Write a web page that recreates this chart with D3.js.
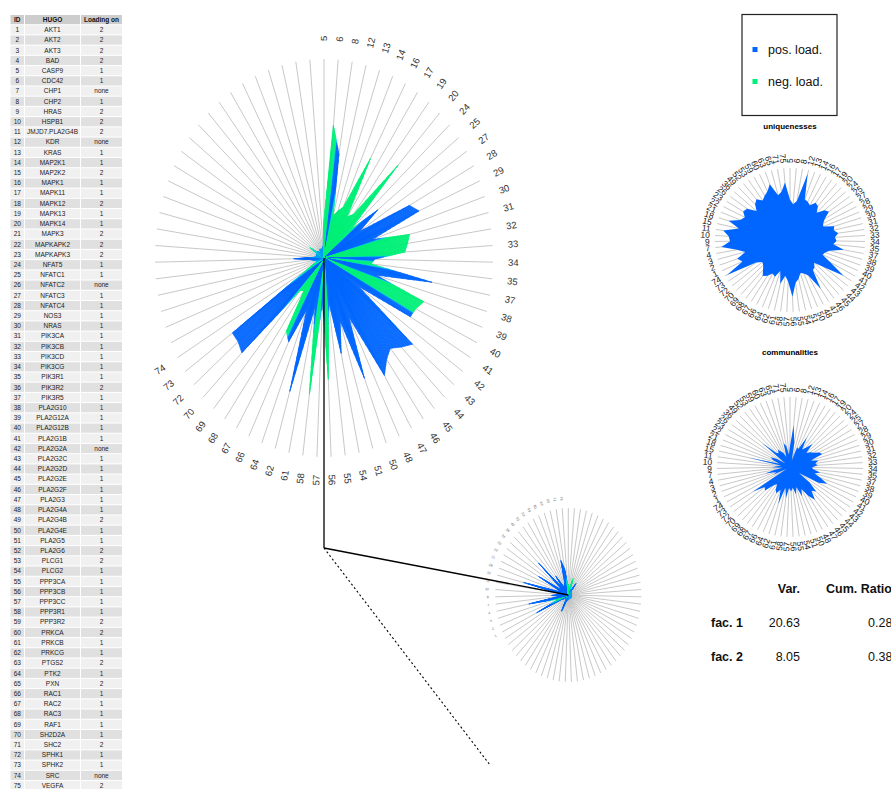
<!DOCTYPE html>
<html>
<head>
<meta charset="utf-8">
<script src="https://cdn.jsdelivr.net/npm/d3@7"></script>
<style>
  html, body { margin: 0; padding: 0; background: #fff; }
  svg { display: block; font-family: "Liberation Sans", Arial, Helvetica, sans-serif; }
</style>
</head>
<body>
<svg id="chart" width="891" height="789"></svg>
<script>
// ---- gene table ----
const hugo = ["AKT1","AKT2","AKT3","BAD","CASP9","CDC42","CHP1","CHP2","HRAS","HSPB1",
  "JMJD7.PLA2G4B","KDR","KRAS","MAP2K1","MAP2K2","MAPK1","MAPK11","MAPK12","MAPK13","MAPK14",
  "MAPK3","MAPKAPK2","MAPKAPK3","NFAT5","NFATC1","NFATC2","NFATC3","NFATC4","NOS3","NRAS",
  "PIK3CA","PIK3CB","PIK3CD","PIK3CG","PIK3R1","PIK3R2","PIK3R5","PLA2G10","PLA2G12A","PLA2G12B",
  "PLA2G1B","PLA2G2A","PLA2G2C","PLA2G2D","PLA2G2E","PLA2G2F","PLA2G3","PLA2G4A","PLA2G4B","PLA2G4E",
  "PLA2G5","PLA2G6","PLCG1","PLCG2","PPP3CA","PPP3CB","PPP3CC","PPP3R1","PPP3R2","PRKCA",
  "PRKCB","PRKCG","PTGS2","PTK2","PXN","RAC1","RAC2","RAC3","RAF1","SH2D2A",
  "SHC2","SPHK1","SPHK2","SRC","VEGFA"];
const loadingOn = ["2","2","2","2","1","1","none","1","2","2",
  "2","none","1","1","2","1","1","2","1","1",
  "2","2","2","1","1","none","1","1","1","1",
  "1","1","1","1","1","2","1","1","1","1",
  "1","none","1","1","1","1","1","1","2","1",
  "1","2","2","1","1","1","1","1","2","2",
  "1","1","2","1","2","1","1","1","1","1",
  "2","1","1","none","2"];

// ---- spoke order: items grouped with factor 1, then factor 2 ----
const factor1Ids = [5,6,8,12,13,14,16,17,19,20,24,25,27,28,29,30,31,32,33,34,35,37,38,39,40,
  41,42,43,44,45,46,47,48,50,51,54,55,56,57,58,61,62,64,66,67,68,69,70,72,73,74];
const factor2Ids = [1,2,3,4,7,9,10,11,15,18,21,22,23,26,36,49,52,53,59,60,63,65,71,75];
const spokeIds = factor1Ids.concat(factor2Ids);

// signed loadings in spoke order (positive = pos. load., negative = neg. load.)
const loadings1 = [-0.20,-0.67,0.53,-0.22,-0.25,-0.28,-0.57,-0.25,-0.28,-0.64,
  -0.22,0.40,0.25,0.57,0.61,0.30,-0.52,-0.50,-0.48,0.30,
  -0.28,0.65,0.32,-0.63,-0.60,0.59,0.25,0.68,0.64,0.60,
  0.63,0.69,0.33,0.65,0.33,0.49,0.22,-0.61,0.22,-0.69,
  0.25,0.70,0.28,0.47,-0.43,-0.20,-0.22,0.68,0.66,0.66,
  -0.12,-0.06,0.04,0.05,0.06,0.08,0.18,0.06,0.04,0.04,
  0.05,0.04,0.05,-0.10,0.04,0.05,0.04,0.03,0.04,0.05,
  0.04,0.05,0.04,0.05,0.06];
const loadings2 = [-0.12,-0.08,0.05,-0.10,-0.20,0.05,0.04,0.06,0.17,0.04,
  0.05,0.04,0.03,0.05,0.04,0.03,0.04,0.05,0.03,0.04,
  0.05,0.04,0.03,0.04,0.05,0.04,0.03,0.04,0.05,0.04,
  0.03,0.04,0.05,0.04,0.03,0.04,0.05,0.04,0.05,0.06,
  0.05,0.07,0.08,0.21,0.06,0.05,0.05,0.06,0.05,0.08,
  0.10,0.48,-0.15,-0.20,0.55,0.10,0.23,0.10,0.15,0.63,
  0.12,0.15,0.46,0.10,0.15,0.55,0.10,0.28,0.12,0.10,
  0.12,0.15,0.41,0.30,-0.12];
const uniquenesses = [0.56,0.50,0.55,0.95,0.60,0.58,0.55,0.62,0.60,0.52,
  0.62,0.65,0.55,0.50,0.48,0.62,0.60,0.65,0.60,0.62,
  0.58,0.73,0.55,0.50,0.48,0.62,0.87,0.60,0.45,0.50,
  0.52,0.79,0.55,0.50,0.48,0.55,0.60,0.79,0.58,0.50,
  0.62,0.45,0.55,0.52,0.58,0.62,0.55,0.50,0.48,0.55,
  0.97,0.70,0.75,0.62,0.72,0.92,0.80,0.82,0.90,0.70,
  0.86,0.72,0.68,0.74,0.72,0.60,0.68,0.72,0.66,0.70,
  0.74,0.82,0.64,0.68,0.80];
const communalities = [0.30,0.60,0.35,0.10,0.30,0.28,0.48,0.30,0.35,0.45,
  0.30,0.35,0.38,0.45,0.48,0.30,0.40,0.35,0.38,0.30,
  0.32,0.42,0.35,0.45,0.56,0.45,0.15,0.35,0.50,0.45,
  0.58,0.48,0.35,0.45,0.30,0.40,0.30,0.35,0.30,0.45,
  0.30,0.55,0.35,0.42,0.38,0.30,0.35,0.48,0.45,0.62,
  0.05,0.25,0.20,0.35,0.22,0.10,0.25,0.18,0.12,0.59,
  0.15,0.25,0.30,0.22,0.08,0.52,0.28,0.25,0.30,0.25,
  0.22,0.15,0.35,0.30,0.18];

// ---- variance summary ----
const factorNames = ["fac. 1","fac. 2"];
const factorVar = ["20.63","8.05"];
const factorCumRatio = ["0.28","0.38"];
const legendLabels = ["pos. load.","neg. load."];

// ---- drawing ----
const svg = d3.select("#chart");
const BLUE = "#0066ff", CYAN = "#00d2f0", GREEN = "#00f078", SPOKE = "#c2c2c2";
const signColor = d3.scaleLinear().domain([-0.1, 0, 0.1]).range([GREEN, CYAN, BLUE]).clamp(true);
const nSpokes = spokeIds.length;

function polarFrame(cx, cy, rx, ry) {
  const angle = d3.scaleLinear().domain([0, nSpokes]).range([0, 2 * Math.PI]);
  const radius = d3.scaleLinear().domain([0, 1]).range([0, 1]);
  return {
    cx, cy,
    pt(i, v) {
      const a = angle(i), r = radius(v);
      return [cx + rx * r * Math.sin(a), cy - ry * r * Math.cos(a)];
    }
  };
}

function drawSpokes(g, f) {
  g.append("g").selectAll("line").data(d3.range(nSpokes)).join("line")
    .attr("x1", f.cx).attr("y1", f.cy)
    .attr("x2", i => f.pt(i, 1)[0]).attr("y2", i => f.pt(i, 1)[1])
    .attr("stroke", SPOKE).attr("stroke-width", 0.9);
}

function drawLabels(g, f, shown, k, size, color) {
  const items = spokeIds.map((id, i) => ({ id, i })).filter(d => shown(d.i));
  const place = d => {
    const [x, y] = f.pt(d.i, k);
    let phi = Math.atan2(x - f.cx, -(y - f.cy)) * 180 / Math.PI;
    if (phi < -0.01) phi += 360;
    return { x, y, phi };
  };
  g.append("g").selectAll("text").data(items).join("text")
    .attr("transform", d => {
      const p = place(d);
      const rot = p.phi <= 180 ? p.phi - 90 : p.phi + 90;
      return `translate(${p.x},${p.y}) rotate(${rot})`;
    })
    .attr("text-anchor", d => place(d).phi <= 180 ? "start" : "end")
    .attr("dy", "0.35em")
    .attr("font-size", size).attr("fill", color)
    .text(d => d.id);
}

// radar of signed loadings, shaded across each edge by the sign of the loading
function drawSignedRadar(g, f, vals, K) {
  const slices = [];
  for (let i = 0; i < nSpokes; i++) {
    const j = (i + 1) % nSpokes;
    const a = f.pt(i, Math.abs(vals[i])), b = f.pt(j, Math.abs(vals[j]));
    for (let k = 0; k < K; k++) {
      const t0 = k / K, t1 = (k + 1) / K;
      slices.push({
        p0: [a[0] + (b[0] - a[0]) * t0, a[1] + (b[1] - a[1]) * t0],
        p1: [a[0] + (b[0] - a[0]) * t1, a[1] + (b[1] - a[1]) * t1],
        v: vals[i] + (vals[j] - vals[i]) * (t0 + t1) / 2
      });
    }
  }
  g.append("g").selectAll("path").data(slices).join("path")
    .attr("d", s => `M${f.cx},${f.cy}L${s.p0[0]},${s.p0[1]}L${s.p1[0]},${s.p1[1]}Z`)
    .attr("fill", s => signColor(s.v))
    .attr("stroke", s => signColor(s.v))
    .attr("stroke-width", 0.5)
    .attr("stroke-linejoin", "round");
}

function drawRadar(g, f, vals, color) {
  const line = d3.line().curve(d3.curveLinearClosed);
  g.append("path").attr("d", line(vals.map((v, i) => f.pt(i, v)))).attr("fill", color);
}

// ---- table of genes ----
const table = svg.append("g");
const rowKeys = ["head"].concat(hugo.map((h, i) => i));
const rowBand = d3.scaleBand().domain(rowKeys).range([15, 15 + rowKeys.length * 10.2]).paddingInner(0.1);
const cols = [
  { title: "ID", x: 10.5, w: 13.5, val: i => i + 1 },
  { title: "HUGO", x: 25, w: 55, val: i => hugo[i] },
  { title: "Loading on", x: 81, w: 41, val: i => loadingOn[i] }
];
cols.forEach(c => {
  table.append("rect").attr("x", c.x).attr("y", rowBand("head")).attr("width", c.w)
    .attr("height", rowBand.bandwidth()).attr("fill", "#cdcdcd");
  table.append("text").attr("x", c.x + c.w / 2).attr("y", rowBand("head") + rowBand.bandwidth() / 2)
    .attr("dy", "0.35em").attr("text-anchor", "middle").attr("font-size", 6.5)
    .attr("font-weight", "bold").attr("fill", "#111").text(c.title);
  const g = table.append("g");
  g.selectAll("rect").data(hugo.map((h, i) => i)).join("rect")
    .attr("x", c.x).attr("y", i => rowBand(i)).attr("width", c.w)
    .attr("height", rowBand.bandwidth())
    .attr("fill", i => i % 2 === 0 ? "#f0f0f0" : "#e0e0e0");
  g.selectAll("text").data(hugo.map((h, i) => i)).join("text")
    .attr("x", c.x + c.w / 2).attr("y", i => rowBand(i) + rowBand.bandwidth() / 2)
    .attr("dy", "0.35em").attr("text-anchor", "middle").attr("font-size", 6.5)
    .attr("fill", "#222").text(c.val);
});

// ---- factor 1 (large) ----
const f1 = polarFrame(324, 258, 169, 199);
const g1 = svg.append("g");
drawSpokes(g1, f1);
drawSignedRadar(g1, f1, loadings1, 10);
drawLabels(g1, f1, i => i < factor1Ids.length, 1.09, 9.5, "#333");

// ---- factor 2 (small) ----
const f2 = polarFrame(568.3, 595, 73, 87);
const g2 = svg.append("g");
drawSpokes(g2, f2);
drawSignedRadar(g2, f2, loadings2, 10);
drawLabels(g2, f2, i => i >= factor1Ids.length, 1.09, 3.5, "#666");

// ---- connectors between the factor plots ----
const branch = [324, 548];
const links = svg.append("g").attr("stroke", "#000").attr("fill", "none");
links.append("line").attr("x1", f1.cx).attr("y1", f1.cy).attr("x2", branch[0]).attr("y2", branch[1]).attr("stroke-width", 1.3);
links.append("line").attr("x1", branch[0]).attr("y1", branch[1]).attr("x2", f2.cx).attr("y2", f2.cy).attr("stroke-width", 1.3);
links.append("line").attr("x1", branch[0]).attr("y1", branch[1]).attr("x2", 490).attr("y2", 765)
  .attr("stroke-width", 1.1).attr("stroke-dasharray", "2,2.5");

// ---- legend ----
const legend = svg.append("g");
legend.append("rect").attr("x", 742).attr("y", 14.5).attr("width", 95).attr("height", 101)
  .attr("fill", "none").attr("stroke", "#222").attr("stroke-width", 1.2);
legend.selectAll("g.item").data(legendLabels).join("g").attr("class", "item")
  .each(function (d, i) {
    const g = d3.select(this);
    const y = 49.5 + i * 32;
    g.append("rect").attr("x", 752.5).attr("y", y - 2.5).attr("width", 5).attr("height", 5)
      .attr("fill", i === 0 ? BLUE : GREEN);
    g.append("text").attr("x", 768).attr("y", y).attr("dy", "0.35em")
      .attr("font-size", 12.5).attr("fill", "#111").text(d);
  });

// ---- uniquenesses ----
const fu = polarFrame(790, 240, 75, 72);
const gu = svg.append("g");
gu.append("text").attr("x", 790).attr("y", 128.5).attr("text-anchor", "middle")
  .attr("font-size", 8).attr("font-weight", "bold").text("uniquenesses");
drawSpokes(gu, fu);
drawRadar(gu, fu, uniquenesses, BLUE);
drawLabels(gu, fu, () => true, 1.07, 8.5, "#222");

// ---- communalities ----
const fc = polarFrame(790, 467, 73, 70);
const gc = svg.append("g");
gc.append("text").attr("x", 790).attr("y", 354.5).attr("text-anchor", "middle")
  .attr("font-size", 8).attr("font-weight", "bold").text("communalities");
drawSpokes(gc, fc);
drawRadar(gc, fc, communalities, BLUE);
drawLabels(gc, fc, () => true, 1.07, 8.5, "#222");

// ---- variance table ----
const vt = svg.append("g").attr("font-size", 12.5).attr("fill", "#111");
vt.append("text").attr("x", 800).attr("y", 592.5).attr("text-anchor", "end").attr("font-weight", "bold").text("Var.");
vt.append("text").attr("x", 826).attr("y", 592.5).attr("font-weight", "bold").text("Cum. Ratio");
factorNames.forEach((name, i) => {
  const y = 626.5 + i * 34;
  vt.append("text").attr("x", 711).attr("y", y).attr("font-weight", "bold").text(name);
  vt.append("text").attr("x", 800).attr("y", y).attr("text-anchor", "end").text(factorVar[i]);
  vt.append("text").attr("x", 868).attr("y", y).text(factorCumRatio[i]);
});
</script>
</body>
</html>
